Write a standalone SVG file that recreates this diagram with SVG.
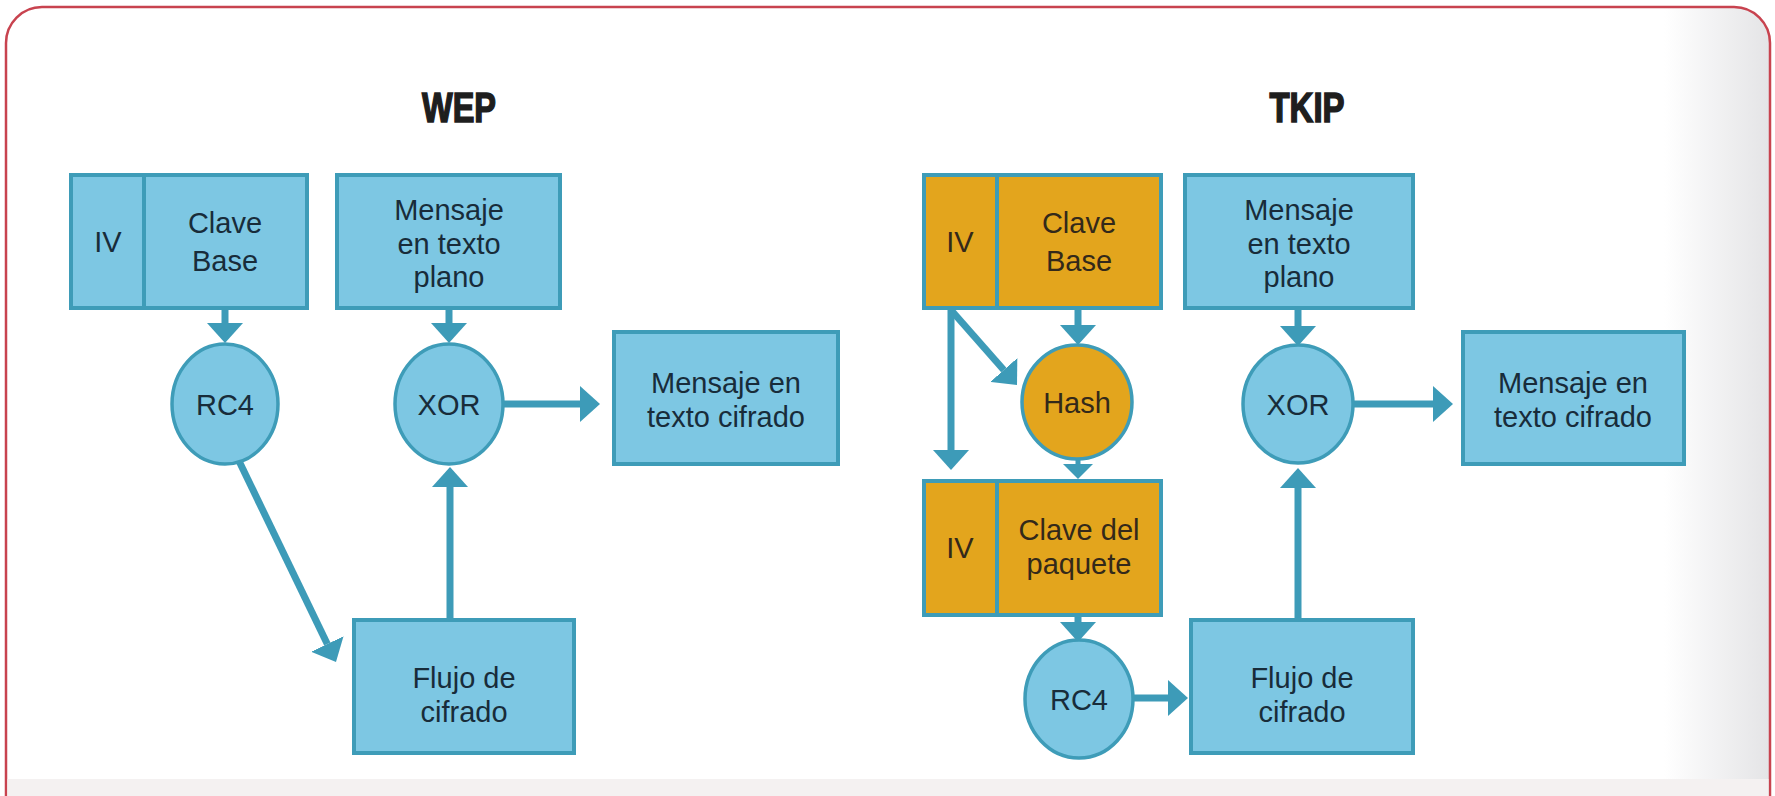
<svg xmlns="http://www.w3.org/2000/svg" width="1775" height="796" viewBox="0 0 1775 796">
<defs>
<linearGradient id="bg" x1="0" y1="0" x2="1" y2="0">
<stop offset="0" stop-color="#ffffff"/>
<stop offset="0.94" stop-color="#ffffff"/>
<stop offset="1" stop-color="#e4e4e6"/>
</linearGradient>
<marker id="ah" markerUnits="userSpaceOnUse" viewBox="0 0 20 36" markerWidth="20" markerHeight="36" refX="0" refY="18" orient="auto">
<path d="M0,0 L20,18 L0,36 Z" fill="#3d9bb8"/>
</marker>
<marker id="ahs" markerUnits="userSpaceOnUse" viewBox="0 0 15 30" markerWidth="15" markerHeight="30" refX="0" refY="15" orient="auto">
<path d="M0,0 L15,15 L0,30 Z" fill="#3d9bb8"/>
</marker>
<style>
.box{fill:#7dc7e3;stroke:#3e9cb8;stroke-width:4}
.obox{fill:#e3a51d;stroke:#3e9cb8;stroke-width:4}
.div{stroke:#3e9cb8;stroke-width:4}
.node{fill:#7dc7e3;stroke:#3e9cb8;stroke-width:3.5}
.onode{fill:#e3a51d;stroke:#3e9cb8;stroke-width:3.5}
.t{font-family:"Liberation Sans",Arial,sans-serif;font-size:29px;fill:#182c3a;text-anchor:middle}
.ot{font-family:"Liberation Sans",Arial,sans-serif;font-size:29px;fill:#33291a;text-anchor:middle}
.title{font-family:"Liberation Sans",Arial,sans-serif;font-size:42px;font-weight:bold;fill:#1e1e1e;stroke:#1e1e1e;stroke-width:1.6;text-anchor:middle}
.c{fill:none;stroke:#3d9bb8;stroke-width:7;marker-end:url(#ah)}
.cs{fill:none;stroke:#3d9bb8;stroke-width:5;marker-end:url(#ahs)}
</style>
</defs>
<rect x="0" y="0" width="1775" height="796" fill="#ffffff"/>
<g id="frame">
<rect x="6" y="7" width="1764" height="860" rx="36" fill="url(#bg)" stroke="#c8434f" stroke-width="2.5"/>
<rect x="7.5" y="779" width="1761" height="17" fill="#f4f1f1"/>
</g>
<text class="title" x="459" y="122" textLength="74" lengthAdjust="spacingAndGlyphs">WEP</text>
<text class="title" x="1307" y="122" textLength="75" lengthAdjust="spacingAndGlyphs">TKIP</text>

<g id="connectors">
<path class="c" d="M225,308 V323"/>
<path class="c" d="M449,308 V323"/>
<path class="c" d="M504,404 H580"/>
<path class="c" d="M239,461 L327.3,644"/>
<path class="c" d="M450,620 V487"/>
<path class="c" d="M1078,308 V325"/>
<path class="c" d="M951,308 V450"/>
<path class="c" d="M951,310 L1003.8,370"/>
<path class="cs" d="M1078,457 V464"/>
<path class="c" d="M1078,614 V622"/>
<path class="c" d="M1132,698 H1168"/>
<path class="c" d="M1298,620 V488"/>
<path class="c" d="M1298,308 V326"/>
<path class="c" d="M1353,404 H1433"/>
</g>

<g id="wep-key">
<rect class="box" x="71" y="175" width="236" height="133"/>
<line class="div" x1="144" y1="175" x2="144" y2="308"/>
<text class="t" x="108" y="252">IV</text>
<text class="t" x="225" y="233">Clave</text>
<text class="t" x="225" y="271">Base</text>
</g>
<g id="wep-plain">
<rect class="box" x="337" y="175" width="223" height="133"/>
<text class="t" x="449" y="220">Mensaje</text>
<text class="t" x="449" y="254">en texto</text>
<text class="t" x="449" y="287">plano</text>
</g>
<g id="wep-rc4">
<ellipse class="node" cx="225" cy="404" rx="53" ry="60"/>
<text class="t" x="225" y="415">RC4</text>
</g>
<g id="wep-xor">
<ellipse class="node" cx="449" cy="404" rx="54" ry="60"/>
<text class="t" x="449" y="415">XOR</text>
</g>
<g id="wep-cipher">
<rect class="box" x="614" y="332" width="224" height="132"/>
<text class="t" x="726" y="393">Mensaje en</text>
<text class="t" x="726" y="427">texto cifrado</text>
</g>
<g id="wep-stream">
<rect class="box" x="354" y="620" width="220" height="133"/>
<text class="t" x="464" y="688">Flujo de</text>
<text class="t" x="464" y="722">cifrado</text>
</g>

<g id="tkip-key">
<rect class="obox" x="924" y="175" width="237" height="133"/>
<line class="div" x1="997" y1="175" x2="997" y2="308"/>
<text class="ot" x="960" y="252">IV</text>
<text class="ot" x="1079" y="233">Clave</text>
<text class="ot" x="1079" y="271">Base</text>
</g>
<g id="tkip-plain">
<rect class="box" x="1185" y="175" width="228" height="133"/>
<text class="t" x="1299" y="220">Mensaje</text>
<text class="t" x="1299" y="254">en texto</text>
<text class="t" x="1299" y="287">plano</text>
</g>
<g id="tkip-hash">
<ellipse class="onode" cx="1077" cy="402" rx="55" ry="57"/>
<text class="ot" x="1077" y="413">Hash</text>
</g>
<g id="tkip-packet-key">
<rect class="obox" x="924" y="481" width="237" height="134"/>
<line class="div" x1="997" y1="481" x2="997" y2="615"/>
<text class="ot" x="960" y="558">IV</text>
<text class="ot" x="1079" y="540">Clave del</text>
<text class="ot" x="1079" y="574">paquete</text>
</g>
<g id="tkip-rc4">
<ellipse class="node" cx="1079" cy="699" rx="54" ry="59"/>
<text class="t" x="1079" y="710">RC4</text>
</g>
<g id="tkip-stream">
<rect class="box" x="1191" y="620" width="222" height="133"/>
<text class="t" x="1302" y="688">Flujo de</text>
<text class="t" x="1302" y="722">cifrado</text>
</g>
<g id="tkip-xor">
<ellipse class="node" cx="1298" cy="404" rx="55" ry="59"/>
<text class="t" x="1298" y="415">XOR</text>
</g>
<g id="tkip-cipher">
<rect class="box" x="1463" y="332" width="221" height="132"/>
<text class="t" x="1573" y="393">Mensaje en</text>
<text class="t" x="1573" y="427">texto cifrado</text>
</g>
</svg>
